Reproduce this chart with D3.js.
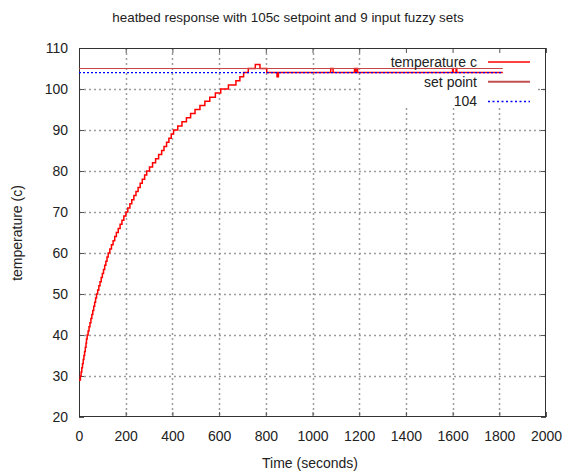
<!DOCTYPE html>
<html>
<head>
<meta charset="utf-8">
<script src="https://cdn.jsdelivr.net/npm/d3@7"></script>
<style>
html,body{margin:0;padding:0;background:#fff;}
svg{display:block;}
text{font-family:"Liberation Sans",Arial,sans-serif;fill:#222;}
</style>
</head>
<body>
<svg id="chart" width="562" height="473"></svg>
<script>
// ---- data ----
const times = [0,6,9,12,15,18,21,24,27,30,32,35,39,43,47,51,55,59,63,67,71,75,80,85,90,95,100,105,110,115,120,125,
  132,139,146,153,160,168,176,184,192,201,209,218,226,235,244,253,262,271,281,290,302,315,328,341,354,364,375,385,395,405,
  423,441,460,478,497,518,539,560,584,607,640,672,689,705,725,755,775,804,848,854,1078,1088,1180,1183,1190,1193,1600,1603,1615,1618,1815];
const temps = [29,30,31,32,33,34,35,36,37,38,39,40,41,42,43,44,45,46,47,48,49,50,51,52,53,54,55,56,57,58,59,60,
  61,62,63,64,65,66,67,68,69,70,71,72,73,74,75,76,77,78,79,80,81,82,83,84,85,86,87,88,89,90,
  91,92,93,94,95,96,97,98,99,100,101,102,103,104,105,106,105,104,103,104,105,104,105,104,105,104,105,104,105,104,104];
const setPoint = 105;
const refLevel = 104;
const xTicks = [0,200,400,600,800,1000,1200,1400,1600,1800,2000];
const yTicks = [20,30,40,50,60,70,80,90,100,110];
const legendLabels = ["temperature c","set point","104"];
const titleText = "heatbed response with 105c setpoint and 9 input fuzzy sets";
const xLabel = "Time (seconds)";
const yLabel = "temperature (c)";

// ---- layout ----
const L = 79, R = 546, T = 48, B = 417;
const KX0 = 362, KX1 = 538, KY1 = 108; // key box (grid is not drawn through it)
const svg = d3.select("#chart");
const x = d3.scaleLinear().domain([0,2000]).range([L,R]);
const y = d3.scaleLinear().domain([20,110]).range([B,T]);

// grid segments
const segs = [];
xTicks.slice(1,-1).forEach(d=>{
  const px = Math.round(x(d))+0.5;
  const y0 = (px>KX0 && px<KX1) ? KY1 : T;
  segs.push([px,y0,px,B]);
});
yTicks.slice(1,-1).forEach(d=>{
  const py = Math.round(y(d))+0.5;
  if (py < KY1) { segs.push([L,py,KX0,py]); segs.push([KX1,py,R,py]); }
  else segs.push([L,py,R,py]);
});
const gridPath = segs.map(s=>`M${s[0]},${s[1]}L${s[2]},${s[3]}`).join("");
svg.append("path").attr("d",gridPath)
  .attr("fill","none").attr("stroke","#9c9c9c").attr("stroke-width",1.5)
  .attr("stroke-dasharray","2,3");

// axes with inward ticks
const fmt = d3.format("d");
const axB = d3.axisBottom(x).tickValues(xTicks).tickFormat(fmt).tickSizeInner(-5).tickSizeOuter(0).tickPadding(14);
const axT = d3.axisTop(x).tickValues(xTicks).tickSizeInner(-5).tickSizeOuter(0).tickFormat("");
const axL = d3.axisLeft(y).tickValues(yTicks).tickFormat(fmt).tickSizeInner(-5).tickSizeOuter(0).tickPadding(11);
const axR = d3.axisRight(y).tickValues(yTicks).tickSizeInner(-5).tickSizeOuter(0).tickFormat("");
function style(g){
  g.select(".domain").remove();
  g.selectAll(".tick line").attr("stroke","#555");
  g.selectAll(".tick text").attr("font-size","14px").attr("fill","#222")
   .attr("font-family",'"Liberation Sans",Arial,sans-serif');
}
svg.append("g").attr("transform",`translate(0,${B})`).call(axB).call(style);
svg.append("g").attr("transform",`translate(0,${T})`).call(axT).call(style);
svg.append("g").attr("transform",`translate(${L},0)`).call(axL).call(style);
svg.append("g").attr("transform",`translate(${R},0)`).call(axR).call(style);

// border
svg.append("rect").attr("x",L+0.5).attr("y",T+0.5).attr("width",R-L-1).attr("height",B-T-1)
  .attr("fill","none").attr("stroke","#333").attr("stroke-width",1);

// data lines
const data = times.map((t,i)=>({t, v:temps[i]}));
const tEnd = times[times.length-1];
const line = d3.line().x(d=>x(d.t)).y(d=>y(d.v)).curve(d3.curveStepAfter);
svg.append("path").datum(data).attr("d",line)
  .attr("fill","none").attr("stroke","#ff0000").attr("stroke-width",1.5);
const flat = d3.line().x(d=>x(d.t)).y(d=>y(d.v));
svg.append("path").datum([{t:0,v:setPoint},{t:tEnd,v:setPoint}]).attr("d",flat)
  .attr("fill","none").attr("stroke","#c84646").attr("stroke-width",1.2);
svg.append("path").datum([{t:0,v:refLevel},{t:tEnd,v:refLevel}]).attr("d",flat)
  .attr("fill","none").attr("stroke","#0000ff").attr("stroke-width",1.2).attr("stroke-dasharray","2,2");

// legend
const lg = svg.append("g");
const styles = [
  {stroke:"#ff0000", w:1.5, dash:null},
  {stroke:"#c05050", w:2, dash:null},
  {stroke:"#0000ff", w:1.5, dash:"2,2.5"}
];
legendLabels.forEach((lab,i)=>{
  const cy = 62 + i*19.7;
  lg.append("text").attr("x",477).attr("y",cy+5).attr("text-anchor","end")
    .attr("font-size","14px").text(lab);
  lg.append("line").attr("x1",488).attr("x2",530).attr("y1",cy).attr("y2",cy)
    .attr("stroke",styles[i].stroke).attr("stroke-width",styles[i].w)
    .attr("stroke-dasharray",styles[i].dash);
});

// titles
svg.append("text").attr("x",288).attr("y",22).attr("text-anchor","middle")
  .attr("font-size","13.4px").text(titleText);
svg.append("text").attr("x",310).attr("y",468).attr("text-anchor","middle")
  .attr("font-size","14px").text(xLabel);
svg.append("text").attr("transform","translate(22,233) rotate(-90)").attr("text-anchor","middle")
  .attr("font-size","14px").text(yLabel);
</script>
</body>
</html>
